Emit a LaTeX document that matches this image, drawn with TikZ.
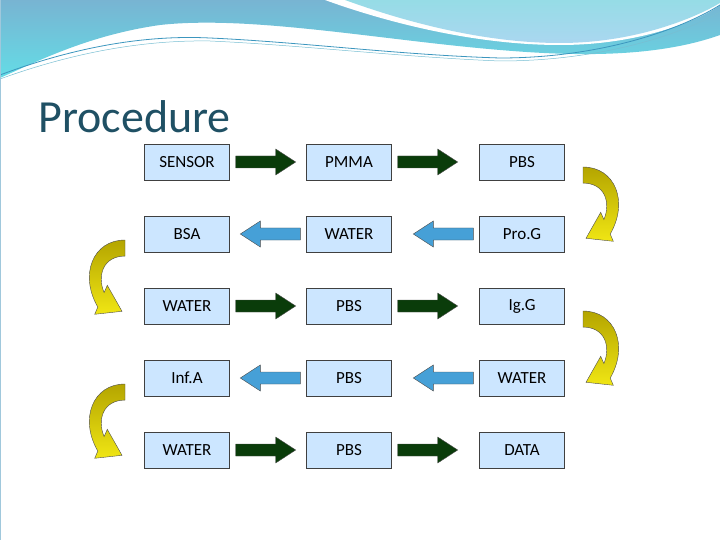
\documentclass[tikz,border=0pt]{standalone}
\usepackage{fontspec}
\setmainfont{Carlito}
\definecolor{l1}{RGB}{60,150,190}
\definecolor{l2}{RGB}{120,190,210}
\definecolor{l3}{RGB}{160,200,220}
\begin{document}
\begin{tikzpicture}[x=1pt,y=-1pt,
  box/.style={draw=black!75,fill={rgb,255:red,204;green,230;blue,255},minimum width=85pt,minimum height=36pt,inner sep=0pt,font=\fontsize{17}{19}\selectfont},
  garrow/.style={draw=black!70,fill={rgb,255:red,10;green,60;blue,10}},
  barrow/.style={draw=black!70,fill={rgb,255:red,70;green,160;blue,215}},
  carrow/.style={draw=black!70,top color={rgb,255:red,180;green,165;blue,0},bottom color={rgb,255:red,240;green,230;blue,20}}]
\useasboundingbox (0,0) rectangle (720,540);
% header
\shade[top color={rgb,255:red,120;green,180;blue,210},bottom color={rgb,255:red,100;green,220;blue,230}]
 (0,0) -- (720,0) -- (720,35) .. controls (650,60) and (560,55) .. (500,50) .. controls (380,40) and (250,15) .. (160,25) .. controls (90,35) and (40,60) .. (0,78) -- cycle;
\fill[white] (325,0) .. controls (380,20) and (470,45) .. (560,45) .. controls (640,45) and (700,20) .. (720,5) -- (720,0) -- cycle;
\shade[top color={rgb,255:red,150;green,220;blue,230},bottom color={rgb,255:red,170;green,215;blue,240}] (345,0) .. controls (400,20) and (480,43) .. (560,43) .. controls (640,43) and (700,15) .. (720,3) -- (720,0) -- cycle;
\draw[color=l1,line width=0.8pt] (0,75) .. controls (80,45) and (150,35) .. (210,38) .. controls (300,42) and (400,55) .. (500,58) .. controls (600,58) and (680,30) .. (720,5);
\draw[color=l2,line width=0.5pt] (0,79) .. controls (80,50) and (150,40) .. (210,41) .. controls (300,45) and (400,57) .. (500,61) .. controls (600,61) and (680,35) .. (720,12);
\draw[color=l3,line width=1pt] (0.5,0) -- (0.5,540);
\node[anchor=base west,text={rgb,255:red,31;green,80;blue,100},font=\fontsize{46}{50}\selectfont] (title) at (35,133) {Procedure};
% boxes
\foreach \r/\a/\b/\c in {1/SENSOR/PMMA/PBS,2/BSA/WATER/Pro.G,3/WATER/PBS/Ig.G,4/Inf.A/PBS/WATER,5/WATER/PBS/DATA}{
  \node[box] (a\r) at (187,{90+72*\r}) {\a};
  \node[box] (b\r) at (349,{90+72*\r}) {\b};
  \node[box] (c\r) at (522,{90+72*\r}) {\c};
}
% straight arrows
\newcommand\rarr[3]{\path[#3] ([xshift=6pt]#1.east) ++(0,-6) -- ++(40,0) -- ++(0,-7) -- ++(20,13) -- ++(-20,13) -- ++(0,-7) -- ++(-40,0) -- cycle;}
\newcommand\larr[3]{\path[#3] ([xshift=-6pt]#1.west) ++(0,-6) -- ++(-40,0) -- ++(0,-7) -- ++(-20,13) -- ++(20,13) -- ++(0,-7) -- ++(40,0) -- cycle;}
\foreach \r in {1,3,5}{\rarr{a\r}{b\r}{garrow}\rarr{b\r}{c\r}{garrow}}
\foreach \r in {2,4}{\larr{b\r}{a\r}{barrow}\larr{c\r}{b\r}{barrow}}
% curved arrows
\tikzset{curv/.pic={\path[carrow] (0,0) .. controls (32,0) and (46,30) .. (27.2,58.3) -- (30.3,64.6) -- (3,62) -- (17.7,39.4) -- (20.9,45.7) .. controls (28,31) and (22,14) .. (0,14) -- cycle;}}
\pic[yscale=1.15] (cr1) at (583,167) {curv};
\pic[yscale=1.15] (cr2) at (583,311) {curv};
\pic[xscale=-1,yscale=1.15] (cl1) at (125,240) {curv};
\pic[xscale=-1,yscale=1.15] (cl2) at (125,384) {curv};
\end{tikzpicture}
\end{document}
